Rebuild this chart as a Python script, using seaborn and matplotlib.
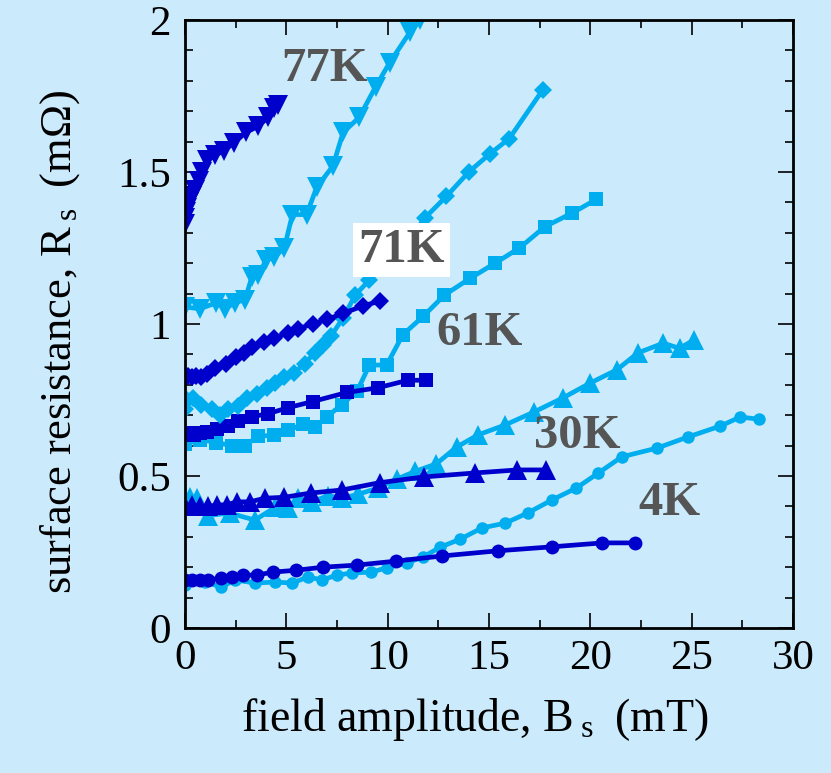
import matplotlib
matplotlib.use('Agg')
import matplotlib.pyplot as plt
import seaborn as sns
from matplotlib.ticker import MultipleLocator

# ---------------- data (field amplitude B_s in mT, surface resistance R_s in mOhm) -------------
b77_dark = [0.0, 0.02, 0.05, 0.1, 0.2, 0.35, 0.5, 0.7, 0.85, 1.1, 1.5, 1.9, 2.4, 3.0, 3.6, 4.1, 4.4, 4.6]
r77_dark = [1.33, 1.35, 1.37, 1.38, 1.40, 1.42, 1.44, 1.47, 1.50, 1.54, 1.555, 1.57, 1.595, 1.63, 1.65, 1.68, 1.71, 1.72]

b77_light = [0.0, 0.74, 1.55, 1.97, 2.47, 2.96, 3.3, 3.6, 4.0, 4.4, 4.9, 5.3, 6.0, 6.5, 7.3, 7.8, 8.6, 9.4, 10.1, 11.1, 11.6, 11.9]
r77_light = [1.056, 1.05, 1.07, 1.05, 1.07, 1.08, 1.155, 1.16, 1.21, 1.22, 1.25, 1.36, 1.36, 1.45, 1.52, 1.63, 1.68, 1.78, 1.86, 1.96, 2.0, 2.05]

b71_dark = [0.0, 0.15, 0.35, 0.55, 0.8, 1.1, 1.5, 2.0, 2.5, 2.9, 3.3, 3.9, 4.4, 5.1, 5.6, 6.3, 7.0, 7.8, 8.8, 9.6]
r71_dark = [0.825, 0.83, 0.825, 0.83, 0.825, 0.835, 0.855, 0.87, 0.89, 0.905, 0.925, 0.94, 0.955, 0.97, 0.985, 1.0, 1.015, 1.035, 1.06, 1.075]

b71_light = [0.0, 0.1, 0.4, 0.8, 1.35, 1.75, 2.1, 2.6, 3.05, 3.55, 4.05, 4.45, 4.9, 5.4, 5.9, 6.4, 6.8, 7.2, 7.8, 8.4, 9.1, 9.9, 10.7, 11.3, 11.85, 12.9, 14.0, 15.05, 16.0, 17.65]
r71_light = [0.72, 0.75, 0.757, 0.733, 0.72, 0.70, 0.72, 0.73, 0.755, 0.77, 0.79, 0.805, 0.825, 0.84, 0.87, 0.905, 0.93, 0.96, 1.02, 1.095, 1.145, 1.2, 1.26, 1.30, 1.35, 1.42, 1.50, 1.56, 1.61, 1.77]

b61_dark = [0.0, 0.2, 0.45, 0.75, 1.1, 1.6, 2.1, 2.6, 3.3, 4.1, 5.1, 6.3, 8.0, 9.5, 11.0, 11.9]
r61_dark = [0.64, 0.64, 0.635, 0.64, 0.645, 0.655, 0.665, 0.68, 0.695, 0.705, 0.725, 0.745, 0.775, 0.79, 0.815, 0.815]

b61_light = [0.0, 0.74, 1.55, 2.3, 2.96, 3.6, 4.4, 5.1, 5.8, 6.4, 7.0, 7.75, 8.5, 9.1, 9.95, 10.75, 11.75, 12.8, 14.06, 15.3, 16.5, 17.76, 19.1, 20.3]
r61_light = [0.605, 0.62, 0.61, 0.60, 0.60, 0.63, 0.635, 0.65, 0.67, 0.66, 0.695, 0.735, 0.78, 0.865, 0.865, 0.965, 1.025, 1.095, 1.15, 1.20, 1.25, 1.32, 1.365, 1.41]

b30_dark = [0.0, 0.35, 0.74, 1.15, 1.6, 2.05, 2.55, 3.2, 3.95, 4.9, 6.2, 7.75, 9.6, 11.8, 14.3, 16.4, 17.8]
r30_dark = [0.40, 0.405, 0.40, 0.40, 0.405, 0.405, 0.415, 0.415, 0.427, 0.43, 0.444, 0.454, 0.478, 0.497, 0.51, 0.52, 0.52]

b30_light = [0.0, 0.25, 0.6, 1.15, 2.2, 3.45, 4.45, 5.1, 5.6, 6.25, 7.05, 7.75, 8.55, 9.5, 10.45, 11.35, 12.4, 13.4, 14.45, 15.8, 17.2, 18.65, 20.0, 21.3, 22.35, 23.6, 24.4, 25.1]
r30_light = [0.42, 0.43, 0.427, 0.37, 0.378, 0.355, 0.397, 0.394, 0.427, 0.415, 0.435, 0.427, 0.44, 0.46, 0.49, 0.515, 0.54, 0.595, 0.635, 0.668, 0.71, 0.757, 0.806, 0.849, 0.905, 0.937, 0.92, 0.947]

b4_dark = [0.0, 0.35, 0.74, 1.15, 1.8, 2.3, 2.86, 3.55, 4.35, 5.5, 6.8, 8.5, 10.4, 12.7, 15.45, 18.1, 20.6, 22.2]
r4_dark = [0.158, 0.158, 0.158, 0.158, 0.164, 0.168, 0.174, 0.174, 0.184, 0.19, 0.20, 0.207, 0.22, 0.237, 0.254, 0.267, 0.28, 0.28]

b4_light = [0.0, 1.0, 1.8, 2.47, 3.45, 4.44, 5.3, 6.07, 6.76, 7.5, 8.24, 9.2, 9.95, 10.95, 11.75, 12.6, 13.57, 14.65, 15.8, 16.9, 18.1, 19.3, 20.4, 21.55, 23.3, 24.8, 26.4, 27.4, 28.3]
r4_light = [0.141, 0.151, 0.135, 0.158, 0.148, 0.151, 0.148, 0.168, 0.158, 0.174, 0.181, 0.184, 0.198, 0.214, 0.234, 0.266, 0.292, 0.329, 0.345, 0.378, 0.421, 0.46, 0.51, 0.563, 0.592, 0.628, 0.664, 0.694, 0.687]

x_ticks = [0, 5, 10, 15, 20, 25, 30]
y_ticks = [0, 0.5, 1, 1.5, 2]
y_ticklabels = ['0', '0.5', '1', '1.5', '2']

temp_labels = ['77K', '71K', '61K', '30K', '4K']
label_B = [6.9, 10.7, 14.55, 19.34, 23.9]
label_R = [1.84, 1.243, 0.97, 0.63, 0.41]

# ---------------- style ----------------
sns.set_theme(style='ticks')
plt.rcParams['font.family'] = ['Liberation Serif', 'DejaVu Serif']
plt.rcParams['mathtext.fontset'] = 'custom'
plt.rcParams['mathtext.rm'] = 'Liberation Serif'
plt.rcParams['mathtext.it'] = 'Liberation Serif:italic'

BG = '#CBEBFD'
DARK = '#0000CC'
LIGHT = '#00AEEF'

fig = plt.figure(figsize=(8.31, 7.73), dpi=100, facecolor=BG)
ax = fig.add_axes([185 / 831, 145 / 773, 608 / 831, 608 / 773])
ax.set_facecolor(BG)

series = [
    (b4_light, r4_light, 'o', LIGHT, 9),
    (b4_dark, r4_dark, 'o', DARK, 10),
    (b30_light, r30_light, '^', LIGHT, 14),
    (b30_dark, r30_dark, '^', DARK, 14),
    (b61_light, r61_light, 's', LIGHT, 10.5),
    (b61_dark, r61_dark, 's', DARK, 10.5),
    (b71_light, r71_light, 'D', LIGHT, 9.5),
    (b71_dark, r71_dark, 'D', DARK, 9.5),
    (b77_light, r77_light, 'v', LIGHT, 14),
    (b77_dark, r77_dark, 'v', DARK, 14),
]
for b, r, m, c, ms in series:
    sns.lineplot(x=b, y=r, ax=ax, color=c, marker=m, markersize=ms,
                 markeredgewidth=0, linewidth=3.4, sort=False,
                 estimator=None, legend=False)

for txt, xb, yr in zip(temp_labels, label_B, label_R):
    kw = dict(ha='center', va='center', fontsize=35, fontweight='bold',
              color='#555555', zorder=10)
    if txt == '71K':
        kw['bbox'] = dict(facecolor='white', edgecolor='none', pad=4)
    ax.text(xb, yr, txt, **kw)

ax.set_xlim(0, 30)
ax.set_ylim(0, 2)
ax.set_xticks(x_ticks)
ax.set_xticklabels([str(t) for t in x_ticks])
ax.set_yticks(y_ticks)
ax.set_yticklabels(y_ticklabels)
ax.xaxis.set_minor_locator(MultipleLocator(2.5))
ax.yaxis.set_minor_locator(MultipleLocator(0.1))
ax.tick_params(which='both', direction='in', top=True, right=True,
               color='black', width=1.2, labelsize=31, labelcolor='black')
ax.tick_params(which='major', length=11)
ax.tick_params(which='minor', length=6)
ax.tick_params(axis='x', which='major', pad=8)
ax.tick_params(axis='y', which='major', pad=10)
for sp in ax.spines.values():
    sp.set_color('black')
    sp.set_linewidth(2)

ax.set_xlabel('field amplitude, B$_{\\;\\mathrm{s}}\\;$ (mT)', fontsize=33, color='black')
ax.set_ylabel('surface resistance, R$_{\\;\\mathrm{s}}\\;$ (m\u03a9)', fontsize=32, color='black')
ax.xaxis.set_label_coords(0.477, -0.112)
ax.yaxis.set_label_coords(-0.17, 0.47)

fig.savefig('out.png', dpi=100, facecolor=BG)
